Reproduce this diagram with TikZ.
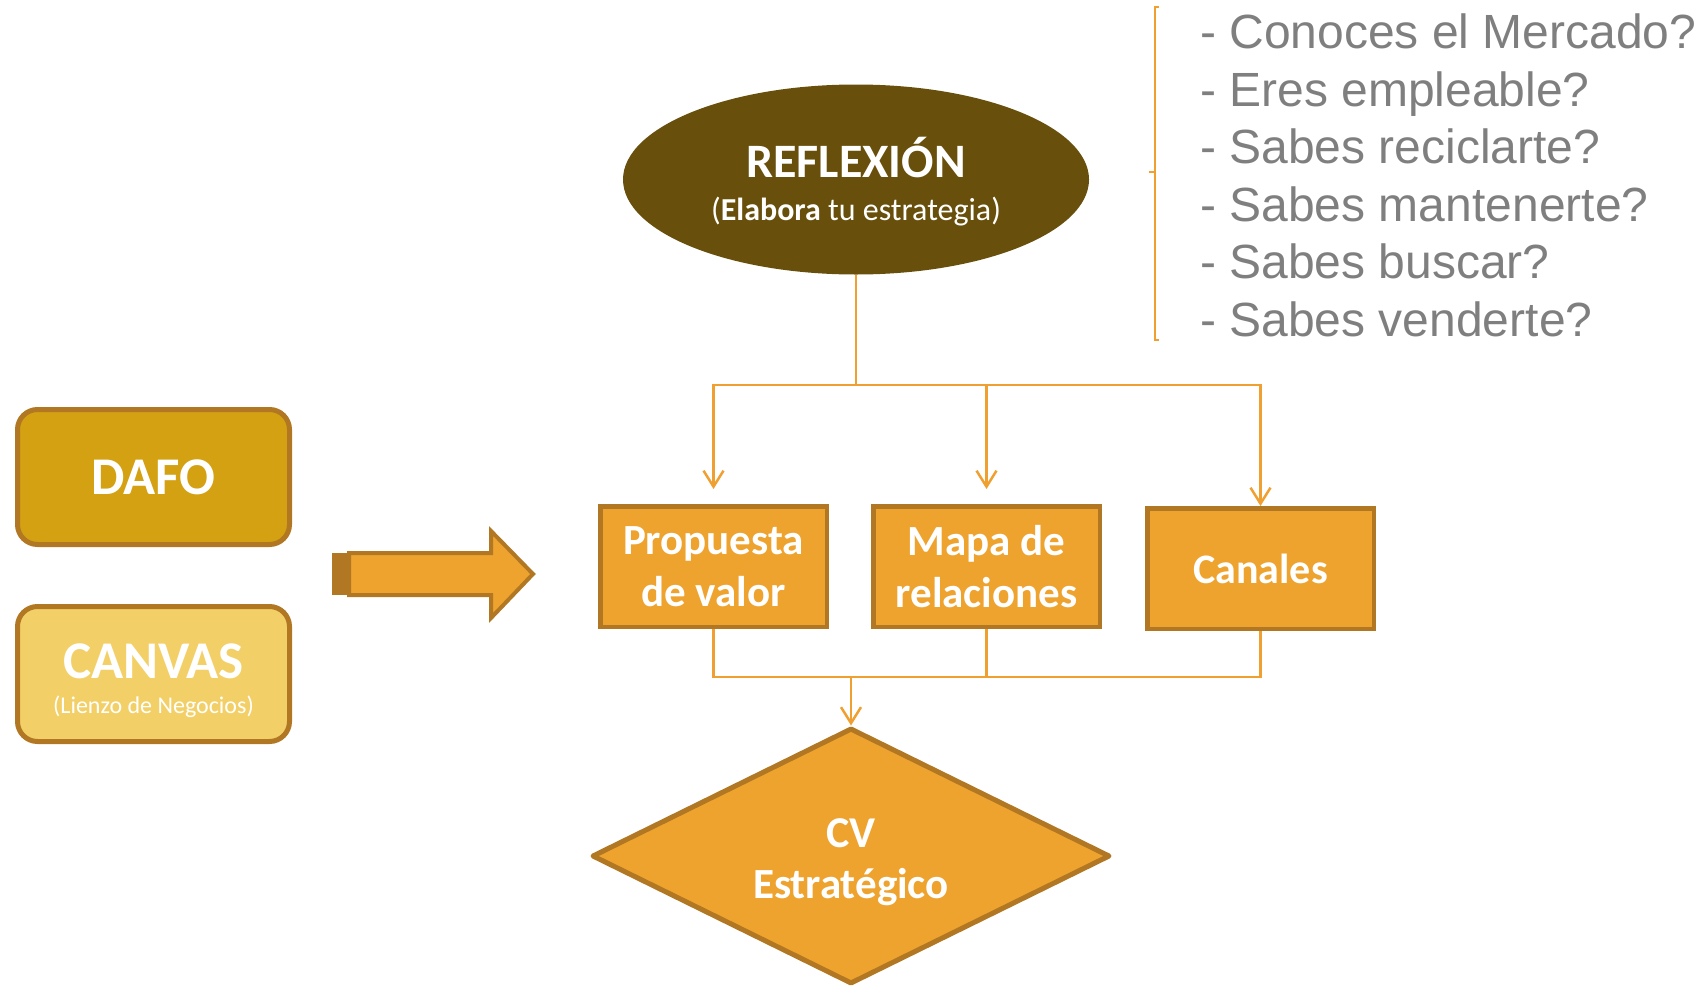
\documentclass[tikz,border=0pt]{standalone}
\usepackage{fontspec}
\setmainfont{Carlito}
\newfontfamily\arialf{Liberation Sans}
\usetikzlibrary{shapes.geometric,arrows.meta}
\definecolor{goldfill}{HTML}{D4A113}
\definecolor{palefill}{HTML}{F3D067}
\definecolor{brd}{HTML}{B17722}
\definecolor{orgfill}{HTML}{EFA32F}
\definecolor{olivefill}{HTML}{684F0B}
\definecolor{lineorange}{HTML}{F0A030}
\definecolor{qgray}{HTML}{7F7F7F}
\begin{document}
\begin{tikzpicture}[x=1pt,y=-1pt,
  stepbox/.style={draw=brd, line width=4.5pt, fill=orgfill, text=white,
    font=\bfseries\fontsize{43}{52}\selectfont, align=center,
    minimum width=226.5pt, minimum height=120.5pt, inner sep=0pt},
  rbox/.style={draw=brd, line width=5pt, rounded corners=20pt,
    minimum width=272pt, minimum height=135pt, inner sep=0pt},
  wtext/.style={text=white, inner sep=0pt, anchor=base},
  question/.style={text=qgray, inner sep=0pt, anchor=base west,
    font=\arialf\fontsize{48}{48}\selectfont},
  wire/.style={draw=lineorange, line width=2.5pt},
  link/.style={wire, -{Straight Barb[length=16pt,width=20pt]}}]
\useasboundingbox (0,0) rectangle (1707,985);

% left boxes
\node[rbox, fill=goldfill, text=white, font=\bfseries\fontsize{53}{53}\selectfont] (dafo) at (153.5,477) {DAFO};
\node[rbox, fill=palefill] (canvas) at (153.5,674) {};
\node[wtext, font=\bfseries\fontsize{53}{53}\selectfont] (canvt) at (153.5,678) {CANVAS};
\node[wtext, font=\fontsize{24}{24}\selectfont] (canvs) at (153.5,713) {(Lienzo de Negocios)};

% block arrow
\fill[brd] (332,553) rectangle (349,595);
\draw[brd, fill=orgfill, line width=4pt] (349,553) -- (491,553) -- (491,531) -- (533,574) -- (491,618) -- (491,595) -- (349,595) -- cycle;

% ellipse
\node[ellipse, fill=olivefill, minimum width=466pt, minimum height=190pt, inner sep=0pt] (refl) at (856,179.5) {};
\node[wtext, font=\bfseries\fontsize{48}{48}\selectfont] (reflt) at (856,177) {REFLEXIÓN};
\node[wtext, font=\fontsize{32}{32}\selectfont] (refls) at (856,220) {(\textbf{Elabora} tu estrategia)};

% questions with bracket
\draw[lineorange, line width=2pt] (1159,7) -- (1155,7) -- (1155,340) -- (1159,340);
\draw[lineorange, line width=2pt] (1155,172) -- (1149,172);
\node[question] (q1) at (1200,48) {- Conoces el Mercado?};
\node[question] (q2) at (1200,106) {- Eres empleable?};
\node[question] (q3) at (1200,163) {- Sabes reciclarte?};
\node[question] (q4) at (1200,221) {- Sabes mantenerte?};
\node[question] (q5) at (1200,278) {- Sabes buscar?};
\node[question] (q6) at (1200,336) {- Sabes venderte?};

% three boxes
\node[stepbox] (prop) at (713.5,566.5) {Propuesta\\de valor};
\node[stepbox] (mapa) at (986.5,566.5) {Mapa de\\relaciones};
\node[stepbox, font=\bfseries\fontsize{42}{52}\selectfont] (can) at (1260.5,568.5) {Canales};

% diamond
\node[diamond, aspect=2, fill=orgfill, draw=brd, line width=5pt, line join=round,
  minimum width=518pt, minimum height=256pt, inner sep=0pt] (cv) at (851,856) {};
\node[wtext, font=\bfseries\fontsize{44}{44}\selectfont] (cvt) at (851,847) {CV};
\node[wtext, font=\bfseries\fontsize{43}{43}\selectfont] (cvs) at (851,898) {Estratégico};

% connectors
\coordinate (split) at (856,385);
\coordinate (join) at (851,677);
\draw[link, shorten >=15pt] (refl.south) -- (split) -| (prop.north);
\draw[link, shorten >=15pt] (refl.south) -- (split) -| (mapa.north);
\draw[link] (refl.south) -- (split) -| (can.north);
\draw[wire] (prop.south) |- (can.south |- join) -- (can.south);
\draw[wire] (mapa.south) -- (mapa.south |- join);
\draw[link] (join) -- (cv.north);
\end{tikzpicture}
\end{document}
